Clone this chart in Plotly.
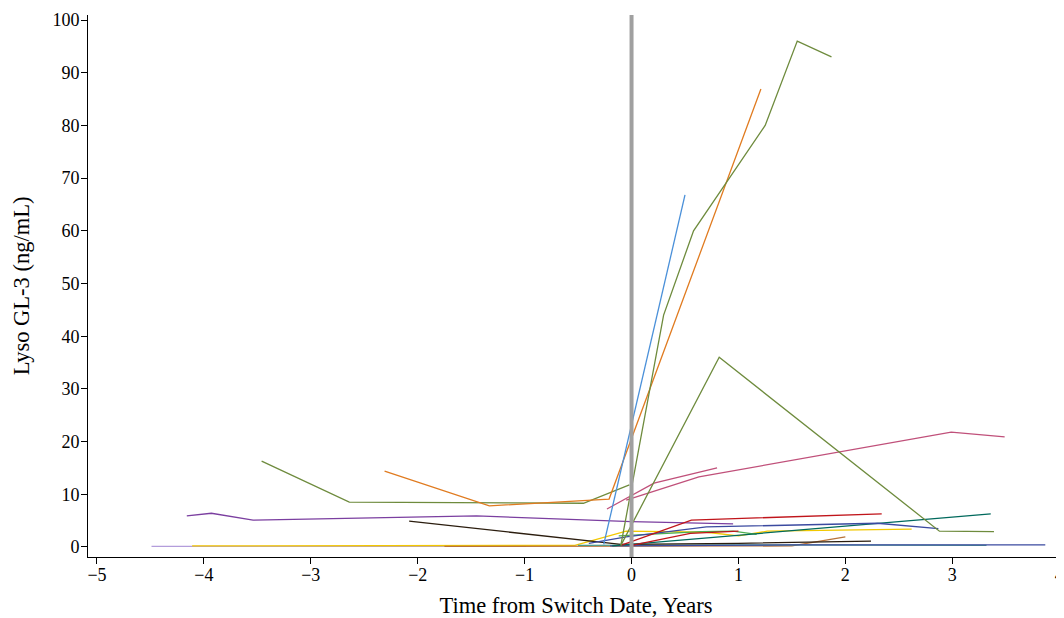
import plotly.graph_objects as go

# Patient trajectories: time from switch (years) and Lyso GL-3 (ng/mL)
olive_a_x = [-0.10, 0.30, 0.58, 1.25, 1.55, 1.87]
olive_a_y = [0.3, 44.0, 60.0, 80.0, 96.0, 93.0]

olive_b_x = [-3.46, -2.64, -0.45, -0.02]
olive_b_y = [16.3, 8.5, 8.3, 11.8]

olive_c_x = [-0.10, 0.82, 2.88, 3.39]
olive_c_y = [0.3, 36.0, 3.0, 2.9]

orange_x = [-2.31, -1.33, -0.21, 1.21]
orange_y = [14.4, 7.8, 9.1, 86.9]

blue_x = [-0.26, 0.50]
blue_y = [0.5, 66.8]

pink_a_x = [-0.23, 0.21, 0.80]
pink_a_y = [7.2, 12.1, 15.0]

pink_b_x = [-0.05, 0.63, 2.99, 3.49]
pink_b_y = [8.9, 13.3, 21.8, 20.9]

purple_x = [-4.16, -3.93, -3.54, -1.45, 0.00, 0.95]
purple_y = [5.9, 6.4, 5.1, 5.9, 4.8, 4.4]

black_x = [-2.08, -0.10, 1.00, 2.24]
black_y = [4.9, 0.5, 0.7, 1.1]

lavender_x = [-4.49, -4.10, -1.00]
lavender_y = [0.1, 0.1, 0.1]

yellow_x = [-4.11, -0.53, -0.05, 0.70, 1.00, 1.27, 2.62]
yellow_y = [0.2, 0.3, 3.0, 2.8, 2.1, 3.0, 3.4]

brown_x = [-1.75, 0.00, 1.50, 2.00]
brown_y = [0.1, 0.2, 0.2, 1.9]

red_a_x = [-0.10, 0.56, 2.34]
red_a_y = [0.3, 5.1, 6.3]

red_b_x = [0.00, 0.55, 1.00]
red_b_y = [0.3, 2.6, 3.0]

navy_x = [-0.40, -0.05, 0.70, 2.30, 2.87]
navy_y = [0.7, 1.9, 3.8, 4.5, 3.5]

green_x = [-0.12, 0.65, 0.95, 1.17]
green_y = [2.1, 2.9, 3.0, 2.4]

teal_x = [-0.18, 3.36]
teal_y = [0.2, 6.3]

lightteal_x = [-0.50, 1.00, 3.32]
lightteal_y = [0.3, 0.4, 0.3]

navy_long_x = [-0.20, 1.50, 3.87]
navy_long_y = [0.2, 0.4, 0.4]

series = [
    (lavender_x, lavender_y, "#b39ddb"),
    (yellow_x, yellow_y, "#f2c800"),
    (brown_x, brown_y, "#b8733a"),
    (lightteal_x, lightteal_y, "#4a9a8a"),
    (navy_long_x, navy_long_y, "#3b4aa0"),
    (black_x, black_y, "#2b1d0e"),
    (purple_x, purple_y, "#7b3fa0"),
    (green_x, green_y, "#4caf50"),
    (teal_x, teal_y, "#00695c"),
    (navy_x, navy_y, "#3b4aa0"),
    (red_b_x, red_b_y, "#c0151b"),
    (red_a_x, red_a_y, "#c0151b"),
    (pink_a_x, pink_a_y, "#c0507a"),
    (pink_b_x, pink_b_y, "#c0507a"),
    (olive_b_x, olive_b_y, "#6e8b3d"),
    (olive_c_x, olive_c_y, "#6e8b3d"),
    (orange_x, orange_y, "#e07b20"),
    (blue_x, blue_y, "#4a90d9"),
    (olive_a_x, olive_a_y, "#6e8b3d"),
]

x_ticks = [-5, -4, -3, -2, -1, 0, 1, 2, 3, 4]
y_ticks = [0, 10, 20, 30, 40, 50, 60, 70, 80, 90, 100]

fig = go.Figure()
for xs, ys, col in series:
    fig.add_trace(go.Scatter(x=xs, y=ys, mode="lines",
                             line=dict(color=col, width=1.3),
                             showlegend=False, hoverinfo="skip"))

fig.add_shape(type="line", xref="x", yref="paper", x0=0, x1=0, y0=0, y1=1,
              line=dict(color="#a0a0a0", width=4), layer="above")

font_family = "Liberation Serif, Times New Roman, serif"
# page body adds an 8px offset, so the figure is 8px smaller and margins shifted
fig.update_layout(
    width=1056, height=610,
    margin=dict(l=80, r=0, t=7, b=61),
    plot_bgcolor="white", paper_bgcolor="white",
    font=dict(family=font_family, size=18, color="black"),
    xaxis=dict(range=[-5.084, 4.045], tickvals=x_ticks, showgrid=False,
               zeroline=False, showline=True, linecolor="black", linewidth=1,
               ticks="outside", ticklen=6, tickcolor="black", automargin=False,
               ticklabelstandoff=-5,
               title=dict(text="Time from Switch Date, Years",
                          font=dict(size=22.5), standoff=13)),
    yaxis=dict(range=[-1.9, 100.95], tickvals=y_ticks, showgrid=False,
               zeroline=False, showline=True, linecolor="black", linewidth=1,
               ticks="outside", ticklen=6, tickcolor="black", automargin=False,
               ticklabelstandoff=-2,
               title=dict(text="Lyso GL-3 (ng/mL)", font=dict(size=22.5),
                          standoff=16)),
)

fig.write_html("out.html")
